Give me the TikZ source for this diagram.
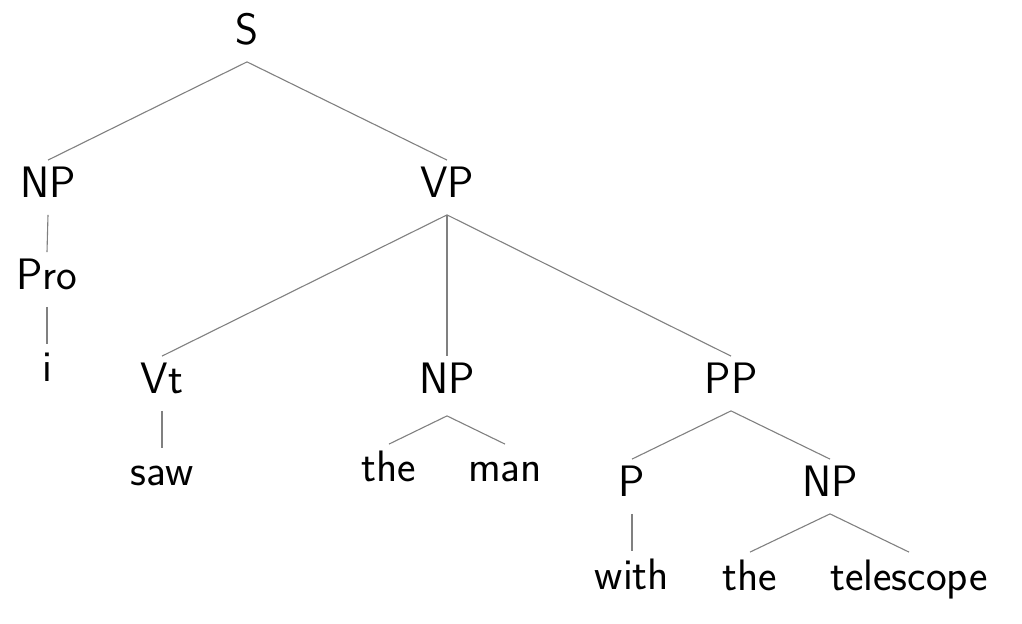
\documentclass[tikz,border=0pt]{standalone}
\usepackage{fontspec}
\usepackage{tikz}

\begin{document}
\begin{tikzpicture}[x=0.5pt, y=-0.5pt,
    cat/.style={anchor=base, inner xsep=0pt, inner ysep=0.5pt,
      text height=18.25pt, text depth=7.75pt,
      font=\fontsize{22}{26}\selectfont\sffamily},
    branch/.style={draw=gray, line width=0.55pt}]
  \useasboundingbox (0,0) rectangle (1022,624);

    \node[cat] (s)    at (247,45)  {S};
    \node[cat] (np1)  at (48,198)  {NP};
    \node[cat] (vp)   at (447,198) {VP};
    \node[cat] (pro)  at (47,290)  {Pro};
    \node[cat] (i)    at (47,382)  {i};
  	\node[cat] (vt)   at (162,394) {Vt};
  	\node[cat] (np2)  at (447,394) {NP};
	\node[cat] (pp)   at (731,394) {PP};
    \node[cat] (saw)  at (162,486) {saw};
    \node[cat] (the1) at (389,482) {the};
    \node[cat] (man)  at (505,482) {man};
    \node[cat] (p)    at (632,497) {P};
    \node[cat] (np3)  at (830,497) {NP};
    \node[cat] (with) at (632,589) {with};
    \node[cat] (the2) at (750,590) {the};
    \node[cat] (tel)  at (909,590) {telescope};

    \draw[branch] (np1.north) -- (s.south) -- (vp.north);
    \draw[branch] (np1.south) -- (pro.north);
    \draw[branch] (pro.south) -- (i.north);
    \draw[branch] (vp.south) -- (vt.north);
    \draw[branch] (vp.south) -- (np2.north);
    \draw[branch] (vp.south) -- (pp.north);
    \draw[branch] (vt.south) -- (saw.north);
    \draw[branch] (the1.north) -- ([yshift=-2.5pt]np2.south) -- (man.north);
    \draw[branch] (p.north) -- (pp.south) -- (np3.north);
    \draw[branch] (p.south) -- (with.north);
    \draw[branch] (the2.north) -- (np3.south) -- (tel.north);
\end{tikzpicture}
\end{document}
